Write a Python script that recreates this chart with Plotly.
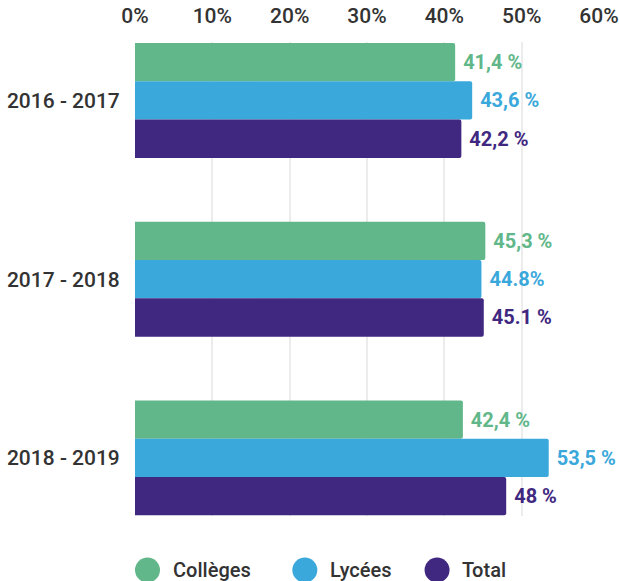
import plotly.graph_objects as go

categories = ["2016 - 2017", "2017 - 2018", "2018 - 2019"]
series_names = ["Collèges", "Lycées", "Total"]
colleges = [41.4, 45.3, 42.4]
lycees = [43.6, 44.8, 53.5]
total = [42.2, 45.1, 48.0]
colleges_labels = ["41,4 %", "45,3 %", "42,4 %"]
lycees_labels = ["43,6 %", "44.8%", "53,5 %"]
total_labels = ["42,2 %", "45.1 %", "48 %"]
x_ticks = [0, 10, 20, 30, 40, 50, 60]

colors = ["#61B789", "#3AA8DB", "#402780"]
FONT = "Roboto, 'Noto Sans', sans-serif"
FONT_MED = "'Roboto Medium', Roboto, 'Noto Sans', sans-serif"

fig = go.Figure()
for name, vals, labels, col in zip(series_names,
                                   [colleges, lycees, total],
                                   [colleges_labels, lycees_labels, total_labels],
                                   colors):
    fig.add_trace(go.Bar(
        y=categories, x=vals, name=name, orientation="h",
        marker=dict(color=col, line=dict(width=0)),
        text=["\u00a0" + t for t in labels],
        textposition="outside", cliponaxis=False, constraintext="none",
        textfont=dict(family=FONT, size=20, color=col, weight="bold"),
        showlegend=False, hoverinfo="skip",
    ))

# manual legend with large circles
leg_circle_x = [0.0269, 0.366, 0.651]
leg_text_x = [0.0776, 0.416, 0.700]
leg_y = -0.114
shapes = []
annotations = []
for name, col, cx, tx in zip(series_names, colors, leg_circle_x, leg_text_x):
    shapes.append(dict(type="circle", xref="paper", yref="paper",
                       xsizemode="pixel", ysizemode="pixel",
                       xanchor=cx, yanchor=leg_y,
                       x0=-12.5, x1=12.5, y0=-12.5, y1=12.5,
                       fillcolor=col, line=dict(width=0)))
    annotations.append(dict(text=name, xref="paper", yref="paper",
                            x=tx, y=leg_y, xanchor="left", yanchor="middle",
                            showarrow=False,
                            font=dict(family=FONT_MED, size=20, color="#333333")))

fig.update_layout(
    width=619, height=581,
    margin=dict(l=135, r=20, t=42, b=65, autoexpand=False),
    barmode="group", bargap=0.357, bargroupgap=0,
    barcornerradius=2,
    paper_bgcolor="white", plot_bgcolor="white",
    font=dict(family=FONT, color="#333333"),
    shapes=shapes, annotations=annotations,
    xaxis=dict(side="top", range=[0, 60], tickvals=x_ticks,
               ticktext=[f"{v}%" for v in x_ticks], automargin=False,
               showgrid=True, gridcolor="#ECECEC", gridwidth=2,
               zeroline=False, showline=False,
               ticks="outside", ticklen=10, tickcolor="rgba(0,0,0,0)",
               tickfont=dict(family=FONT_MED, size=21, color="#333333")),
    yaxis=dict(type="category", range=[2.325, -0.327], automargin=False,
               showgrid=False, zeroline=False, showline=False,
               ticks="outside", ticklen=10, tickcolor="rgba(0,0,0,0)",
               tickfont=dict(family=FONT_MED, size=21, color="#333333")),
)

fig.write_html("out.html")
